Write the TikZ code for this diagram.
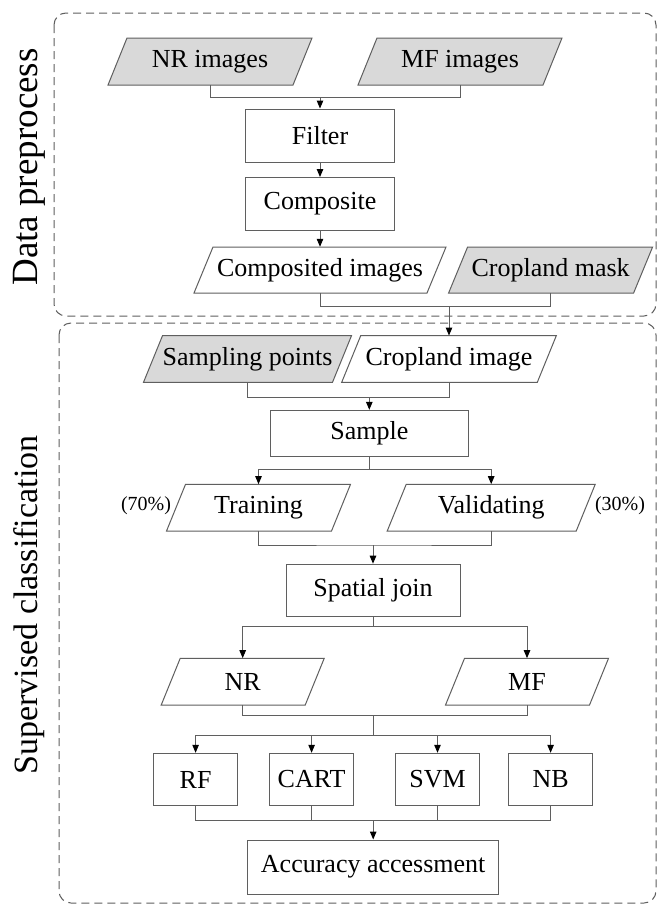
\documentclass[tikz,border=0pt]{standalone}
\usepackage{fontspec}
\setmainfont{Liberation Serif}
\usetikzlibrary{arrows.meta}
\definecolor{lc}{RGB}{95,95,95}
\definecolor{gf}{RGB}{217,217,217}
\tikzset{
  boxnode/.style={draw=lc, line width=1pt, fill=white, inner sep=0pt, font=\fontsize{26}{30}\selectfont},
  ptext/.style={inner sep=0pt, font=\fontsize{26}{30}\selectfont},
  paraline/.style={draw=lc, line width=1pt},
  conn/.style={draw=lc, line width=1pt},
  arr/.style={draw=lc, line width=1pt, -{Triangle[length=8pt,width=6.5pt,color=black]}},
  dbox/.style={draw=lc, line width=1pt, dash pattern=on 8pt off 5pt, rounded corners=12pt},
  pct/.style={inner sep=0pt, font=\fontsize{20}{24}\selectfont},
}
% name, cx, cy, w, h, fill, text
\newcommand\paral[7]{%
  \draw[paraline, fill=#6] ({#2-#4/2},{#3+#5/2}) -- ({#2+#4/2-19},{#3+#5/2}) -- ({#2+#4/2},{#3-#5/2}) -- ({#2-#4/2+19},{#3-#5/2}) -- cycle;
  \node[ptext, minimum width={#4pt-38pt}, minimum height=#5pt] (#1) at (#2,#3) {#7};
}
\begin{document}
\begin{tikzpicture}[x=1pt, y=-1pt]
\useasboundingbox (0,0) rectangle (657,905);
\fill[white] (0,0) rectangle (657,905);

% section frames
\draw[dbox] (54,13) rectangle (656,316);
\draw[dbox] (59,323) rectangle (656,903);
\node[rotate=90, inner sep=0pt, font=\fontsize{37}{40}\selectfont] (lab1) at (29,167) {Data preprocess};
\node[rotate=90, inner sep=0pt, font=\fontsize{34}{40}\selectfont] (lab2) at (29,605) {Supervised classification};

% data preprocess
\paral{nrimg}{210}{61.5}{204}{47}{gf}{NR images}
\paral{mfimg}{460}{61.5}{204}{47}{gf}{MF images}
\node[boxnode, minimum width=149pt, minimum height=53pt] (filter) at (320,135.5) {Filter};
\node[boxnode, minimum width=149pt, minimum height=53pt] (comp) at (320,204) {Composite};
\paral{compd}{320}{270}{252}{46}{white}{Composited images}
\paral{mask}{550.6}{270}{204}{46}{gf}{Cropland mask}

\coordinate (j1) at (320,97.3);
\draw[conn] (nrimg.south) |- (j1) -| (mfimg.south);
\draw[arr] (j1) -- (filter.north);
\draw[arr] (filter.south) -- (comp.north);
\draw[arr] (comp.south) -- (compd.north);

% supervised classification
\paral{spts}{247.5}{359}{208}{46.6}{gf}{Sampling points}
\paral{cimg}{449}{359}{214.6}{46.6}{white}{Cropland image}

\coordinate (j2) at (449,306.7);
\draw[conn] (compd.south) |- (j2) -| (mask.south);
\draw[arr] (j2) -- (cimg.north);

\node[boxnode, minimum width=198.6pt, minimum height=46.4pt] (sample) at (369.3,433.5) {Sample};
\coordinate (j3) at (369.3,397.3);
\draw[conn] (spts.south) |- (j3) -| (cimg.south);
\draw[arr] (j3) -- (sample.north);

\paral{train}{258.5}{507.7}{184}{46.7}{white}{Training}
\paral{valid}{491.2}{507.7}{208}{46.7}{white}{Validating}
\node[pct] (p70) at (146,506) {(70\%)};
\node[pct] (p30) at (620,506) {(30\%)};

\coordinate (s3) at (369.3,469.3);
\draw[conn] (sample.south) -- (s3);
\draw[arr] (s3) -| (train.north);
\draw[arr] (s3) -| (valid.north);

\node[boxnode, minimum width=174pt, minimum height=52pt] (spatial) at (373,590.2) {Spatial join};
\coordinate (j4) at (373,545);
\draw[conn] (train.south) |- (j4) -| (valid.south);
\draw[arr] (j4) -- (spatial.north);

\paral{nr}{242.7}{681.7}{163}{46.7}{white}{NR}
\paral{mf}{527}{681.7}{163}{46.7}{white}{MF}
\coordinate (s4) at (373,626);
\draw[conn] (spatial.south) -- (s4);
\draw[arr] (s4) -| (nr.north);
\draw[arr] (s4) -| (mf.north);

\node[boxnode, minimum width=84pt, minimum height=52.4pt] (rf) at (195.6,779.5) {RF};
\node[boxnode, minimum width=84pt, minimum height=52.4pt] (cart) at (311.6,779.5) {CART};
\node[boxnode, minimum width=84pt, minimum height=52.4pt] (svm) at (437.5,779.5) {SVM};
\node[boxnode, minimum width=84pt, minimum height=52.4pt] (nb) at (550.6,779.5) {NB};

\coordinate (j5) at (373,715.7);
\coordinate (s5) at (373,735);
\draw[conn] (nr.south) |- (j5) -| (mf.south);
\draw[conn] (j5) -- (s5);
\draw[arr] (s5) -| (rf.north);
\draw[arr] (s5) -| (cart.north);
\draw[arr] (s5) -| (svm.north);
\draw[arr] (s5) -| (nb.north);

\node[boxnode, minimum width=251pt, minimum height=54pt] (acc) at (373.2,867) {Accuracy accessment};
\coordinate (j6) at (373.2,820);
\draw[conn] (rf.south) |- (j6) -| (nb.south);
\draw[conn] (cart.south) -- (cart.south |- j6);
\draw[conn] (svm.south) -- (svm.south |- j6);
\draw[arr] (j6) -- (acc.north);
\end{tikzpicture}
\end{document}
